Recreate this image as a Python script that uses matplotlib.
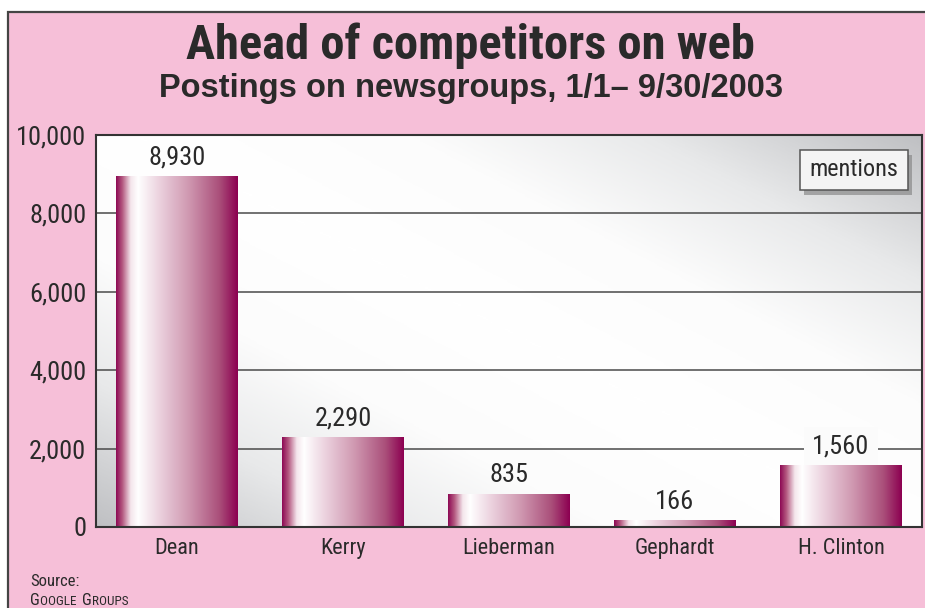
import matplotlib
matplotlib.use("Agg")
import matplotlib.pyplot as plt
import numpy as np
from matplotlib.colors import LinearSegmentedColormap
from matplotlib.patches import Rectangle
from matplotlib import font_manager

installed = {f.name for f in font_manager.fontManager.ttflist}
COND = [c for c in ["Roboto Condensed", "Liberation Sans Narrow", "Roboto"] if c in installed] + ["DejaVu Sans"]
WIDE = [c for c in ["Liberation Sans", "Roboto"] if c in installed] + ["DejaVu Sans"]
plt.rcParams["font.family"] = COND

categories = ["Dean", "Kerry", "Lieberman", "Gephardt", "H. Clinton"]
values = [8930, 2290, 835, 166, 1560]
value_labels = ["8,930", "2,290", "835", "166", "1,560"]
yticks = [0, 2000, 4000, 6000, 8000, 10000]
ytick_labels = ["0", "2,000", "4,000", "6,000", "8,000", "10,000"]

PINK = "#F6BFD8"
DARK = "#2a2a2a"

fig = plt.figure(figsize=(9.25, 6.08), dpi=100)
fig.patch.set_facecolor("white")

panel = Rectangle((8/925, -0.05), 1.2, 1 - 12/608 + 0.05,
                  transform=fig.transFigure, facecolor=PINK,
                  edgecolor="#444444", linewidth=1.6, zorder=-10)
fig.patches.append(panel)

fig.text(0.509, 1 - 46/608, "Ahead of competitors on web", ha="center", va="center",
         fontsize=35, fontweight="bold", color=DARK)
fig.text(0.509, 1 - 89/608, "Postings on newsgroups, 1/1\u2013 9/30/2003", ha="center", va="center",
         fontsize=23.5, fontweight="bold", color=DARK, family=WIDE)

# Source with small caps
fig.text(30/925, 1 - 581/608, "Source:", ha="left", va="center", fontsize=12, color=DARK)
fig.canvas.draw()
renderer = fig.canvas.get_renderer()
x = 30
ybase = 1 - 605/608
for part, big in [("G", True), ("OOGLE ", False), ("G", True), ("ROUPS", False)]:
    t = fig.text(x/925, ybase, part, ha="left", va="baseline",
                 fontsize=12 if big else 9.5, color=DARK)
    bb = t.get_window_extent(renderer)
    x = bb.x1 + (3 if part.endswith(" ") else 0)

ax = fig.add_axes([96/925, 1 - 527/608, (922 - 96)/925, (527 - 135)/608])
ax.set_xlim(-0.488, len(categories) - 1 + 0.488)
ax.set_ylim(0, 10000)

# background: white diagonal band, grey towards bottom-left and top-right corners
gx, gy = np.meshgrid(np.linspace(0, 1, 300), np.linspace(0, 1, 300))
d = np.abs(gx * 1.05 + gy * 0.95 - 1.0)
bg_cmap = LinearSegmentedColormap.from_list("bg", [(0, "#ffffff"), (0.35, "#fcfcfc"),
                                                   (0.65, "#e8e9ea"), (1.0, "#bfc0c3")])
ax.imshow(d, cmap=bg_cmap, origin="lower", extent=[0, 1, 0, 1], transform=ax.transAxes,
          aspect="auto", zorder=0, vmin=0, vmax=1.0)

for y in yticks[1:-1]:
    ax.axhline(y, color="#4a4a4a", linewidth=1.1, zorder=1)

bar_cmap = LinearSegmentedColormap.from_list("bar", [
    (0.0, "#8e0a55"), (0.05, "#b3577f"), (0.12, "#f4e6ec"), (0.18, "#ffffff"),
    (0.35, "#ecd3df"), (0.6, "#cf97b0"), (0.85, "#aa4f7a"), (1.0, "#8c0051")])
grad = np.linspace(0, 1, 256).reshape(1, -1)
width = 0.73
for i, v in enumerate(values):
    ax.imshow(grad, cmap=bar_cmap, extent=[i - width/2, i + width/2, 0, v],
              aspect="auto", zorder=2, origin="lower")
    kw = {}
    if categories[i] == "H. Clinton":
        kw["bbox"] = dict(boxstyle="square,pad=0.3", facecolor="#fbfbfb", edgecolor="none")
    ax.annotate(value_labels[i], (i, v), xytext=(0, 5), textcoords="offset points",
                ha="center", va="bottom", fontsize=19, color=DARK, zorder=1.5, **kw)

ax.set_xlim(-0.488, len(categories) - 1 + 0.488)
ax.set_ylim(0, 10000)
ax.set_xticks(range(len(categories)))
ax.set_xticklabels(categories, fontsize=16, color=DARK)
ax.set_yticks(yticks)
ax.set_yticklabels(ytick_labels, fontsize=19, color=DARK)
ax.tick_params(axis="both", length=0)
ax.tick_params(axis="y", pad=7)
ax.tick_params(axis="x", pad=8)
for s in ax.spines.values():
    s.set_color("#333333")
    s.set_linewidth(1.5)
    s.set_zorder(5)

ax.add_patch(Rectangle((0.857, 0.848), 0.131, 0.102, transform=ax.transAxes,
                       facecolor="#8a8a8a", edgecolor="none", zorder=6, alpha=0.7))
ax.add_patch(Rectangle((0.852, 0.86), 0.131, 0.102, transform=ax.transAxes,
                       facecolor="#f4f4f4", edgecolor="#555555", linewidth=1.1, zorder=7))
ax.text(0.852 + 0.0655, 0.911, "mentions", transform=ax.transAxes, ha="center", va="center",
        fontsize=17.5, color=DARK, zorder=8)

fig.savefig("out.png", dpi=100)
